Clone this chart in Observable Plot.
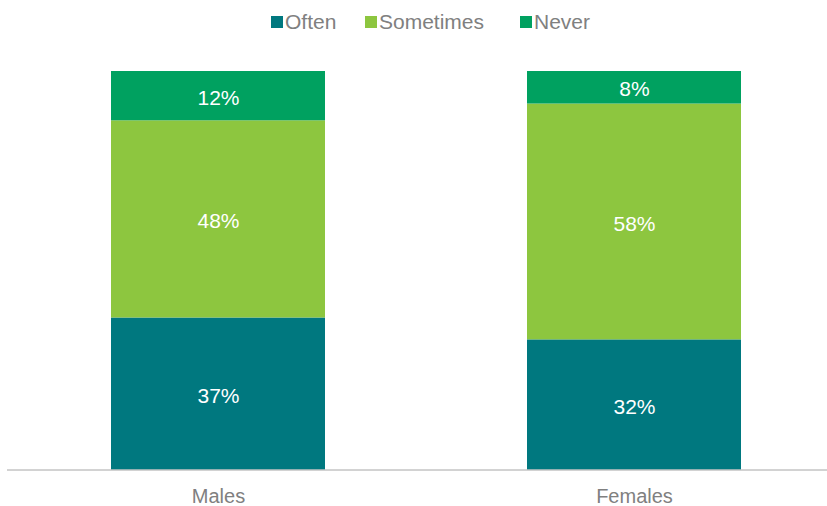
<!DOCTYPE html>
<html>
<head>
<meta charset="utf-8">
<script src="https://cdn.jsdelivr.net/npm/d3@7"></script>
<script src="https://cdn.jsdelivr.net/npm/@observablehq/plot@0.6"></script>
<style>
  html, body { margin: 0; padding: 0; background: #fff; }
  body { width: 827px; height: 506px; overflow: hidden; font-family: "Liberation Sans", Arial, sans-serif; }
  #legend { position: relative; height: 45px; font-size: 21px; color: #808080; }
  .item { position: absolute; top: 9px; display: flex; align-items: center; height: 26px; }
  .sw { width: 12px; height: 12px; margin-right: 2px; }
  svg { display: block; }
</style>
</head>
<body>
<div id="legend"></div>
<div id="chart"></div>
<script>
const categories = ["Males", "Females"];
const responses = ["Often", "Sometimes", "Never"];
const often = [37, 32];
const sometimes = [48, 58];
const never = [12, 8];
const colors = ["#00787f", "#8dc63f", "#00a160"];
const legendLeft = [271, 365, 520];

const series = [often, sometimes, never];
const data = categories.flatMap((c, i) =>
  responses.map((r, j) => ({ group: c, response: r, value: series[j][i] }))
);

const legend = document.getElementById("legend");
responses.forEach((r, j) => {
  const item = document.createElement("div");
  item.className = "item";
  item.style.left = legendLeft[j] + "px";
  const sw = document.createElement("div");
  sw.className = "sw";
  sw.style.background = colors[j];
  const t = document.createElement("span");
  t.textContent = r;
  item.appendChild(sw);
  item.appendChild(t);
  legend.appendChild(item);
});

const chart = Plot.plot({
  width: 827,
  height: 461,
  marginTop: 26,
  marginBottom: 36.5,
  marginLeft: 7,
  marginRight: 0,
  style: { fontFamily: "'Liberation Sans', Arial, sans-serif", color: "#808080", background: "#fff" },
  x: { domain: categories, range: [111, 741], paddingInner: 0.486, paddingOuter: 0, axis: null, label: null },
  y: { domain: [0, 1], axis: null },
  color: { domain: responses, range: colors },
  marks: [
    Plot.barY(data, Plot.stackY({ offset: "normalize" }, { x: "group", y: "value", z: "response", fill: "response" })),
    Plot.text(data, Plot.stackY({ offset: "normalize" }, { x: "group", y: "value", z: "response", text: d => d.value + "%", fill: "white", fontSize: 21, dy: 2 })),
    Plot.ruleY([0], { stroke: "#a6a6a6", strokeWidth: 1 }),
    Plot.axisX({ tickSize: 0, tickPadding: 19, fontSize: 20, fill: "#808080", label: null })
  ]
});
document.getElementById("chart").appendChild(chart);
</script>
</body>
</html>
